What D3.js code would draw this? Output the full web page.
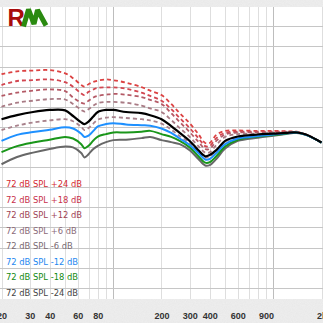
<!DOCTYPE html>
<html>
<head>
<meta charset="utf-8">
<script src="https://cdn.jsdelivr.net/npm/d3@7"></script>
<style>
  html, body { margin: 0; padding: 0; overflow: hidden; background: #eeeeee; }
  svg { display: block; }
</style>
</head>
<body>
<svg id="chart" width="323" height="323"></svg>
<script>
// Frequency points (Hz) shared by every curve
const freqs = [20, 25, 31.5, 40, 50, 56, 63, 66, 70, 75, 80, 90, 100, 120, 150, 170,
               200, 230, 260, 300, 340, 375, 400, 440, 500, 600, 800, 1000, 1200, 1400, 1600, 2000];

// Relative response (dB) for each playback level
const plus24  = [13.1, 13.8, 14.0, 14.1, 13.3, 12.1, 10.4, 10.0, 10.6, 11.2, 11.5, 11.8, 11.6, 11.0, 9.9, 9.0,
                 7.9, 5.7, 3.4, 0.9, -1.8, -4.0, -4.0, -2.0, -1.0, -0.9, -1.0, -1.0, -1.1, -1.2, -1.9, -3.9];
const plus18  = [10.4, 11.4, 11.6, 11.8, 11.1, 10.0, 8.3, 7.9, 8.7, 9.3, 9.7, 9.8, 9.8, 9.5, 8.5, 7.7,
                 6.5, 4.4, 2.2, -0.3, -2.8, -4.8, -4.8, -2.8, -1.5, -1.2, -1.2, -1.2, -1.2, -1.3, -1.9, -3.9];
const plus12  = [7.7, 8.5, 9.0, 9.3, 8.9, 7.3, 6.0, 5.8, 6.5, 7.3, 7.7, 8.0, 8.2, 8.0, 7.4, 6.7,
                 5.7, 3.4, 1.2, -1.3, -3.7, -5.5, -5.5, -3.5, -1.9, -1.4, -1.4, -1.4, -1.3, -1.3, -1.9, -3.9];
const plus6   = [5.0, 6.0, 6.5, 6.9, 6.8, 5.7, 4.2, 3.8, 4.4, 5.3, 5.9, 6.2, 6.2, 6.0, 5.3, 4.6,
                 3.7, 1.7, -0.3, -2.5, -4.8, -6.4, -6.3, -4.5, -2.5, -1.8, -1.7, -1.5, -1.4, -1.4, -1.9, -3.9];
const ref0    = [1.9, 2.9, 3.7, 4.2, 4.1, 2.7, 1.1, 0.7, 1.3, 2.6, 3.7, 4.2, 4.2, 3.7, 3.4, 2.9,
                 1.9, 0.2, -1.5, -3.5, -5.8, -7.3, -7.0, -5.8, -3.5, -2.4, -1.9, -1.7, -1.5, -1.4, -1.9, -3.9];
const minus6  = [-0.8, 0.3, 1.1, 1.6, 1.9, 1.4, 0.0, -0.8, -0.3, 0.8, 1.8, 2.3, 2.4, 2.2, 1.9, 1.6,
                 0.8, -0.7, -2.3, -4.0, -6.1, -7.6, -7.4, -5.9, -3.7, -2.5, -2.0, -1.8, -1.5, -1.4, -1.9, -3.9];
const minus12 = [-3.5, -2.0, -1.3, -0.7, -0.1, -0.4, -1.7, -2.5, -2.2, -1.0, 0.1, 0.7, 0.9, 0.6, 0.4, 0.3,
                 -0.4, -1.5, -2.9, -4.5, -6.5, -8.1, -8.0, -6.5, -4.3, -2.9, -2.3, -1.9, -1.6, -1.4, -2.0, -3.9];
const minus18 = [-6.3, -4.8, -3.9, -3.2, -2.5, -2.9, -4.3, -5.3, -4.7, -3.4, -2.4, -1.8, -1.4, -1.4, -1.2, -1.0,
                 -1.8, -2.5, -3.5, -5.1, -7.3, -8.9, -8.8, -7.3, -4.9, -3.2, -2.4, -2.0, -1.7, -1.4, -2.0, -3.9];
const minus24 = [-9.3, -7.5, -6.4, -5.5, -4.9, -5.1, -6.5, -7.6, -6.8, -5.5, -4.7, -3.8, -3.3, -3.2, -2.8, -2.5,
                 -3.3, -3.8, -4.3, -5.8, -8.0, -9.6, -9.5, -8.0, -5.4, -3.5, -2.7, -2.2, -1.8, -1.5, -2.0, -3.9];

// Legend entries (the 0 dB reference curve has no entry)
const legendLabels = ["72 dB SPL +24 dB", "72 dB SPL +18 dB", "72 dB SPL +12 dB", "72 dB SPL +6 dB",
                      "72 dB SPL -6 dB", "72 dB SPL -12 dB", "72 dB SPL -18 dB", "72 dB SPL -24 dB"];

// Frequency axis labels
const tickFreqs  = [20, 30, 40, 60, 80, 200, 300, 400, 600, 900, 2000];
const tickLabels = ["20", "30", "40", "60", "80", "200", "300", "400", "600", "900", "2k"];

const series = [
  { values: plus24,  color: "#dc4242", text: "#d42a30", dashed: true,  label: legendLabels[0] },
  { values: plus18,  color: "#d24650", text: "#c8304a", dashed: true,  label: legendLabels[1] },
  { values: plus12,  color: "#b45a66", text: "#a04454", dashed: true,  label: legendLabels[2] },
  { values: plus6,   color: "#a87a84", text: "#8a6a78", dashed: true,  label: legendLabels[3] },
  { values: minus6,  color: "#a8828c", text: "#7a6a72", dashed: true,  label: legendLabels[4] },
  { values: minus24, color: "#686868", text: "#444444", dashed: false, label: legendLabels[7], w: 2 },
  { values: minus18, color: "#1a961a", text: "#128a12", dashed: false, label: legendLabels[6], w: 2 },
  { values: minus12, color: "#1e90ff", text: "#1e88f0", dashed: false, label: legendLabels[5], w: 2 },
  { values: ref0,    color: "#000000", text: null,      dashed: false, label: null, w: 2.2 }
];

const W = 323, H = 323;
const plot = { left: 0, right: 323, top: 7, bottom: 299 };

const svg = d3.select("#chart");

// Outer background with a light grain
const defs = svg.append("defs");
const grain = defs.append("filter").attr("id", "grain").attr("x", 0).attr("y", 0)
  .attr("width", "100%").attr("height", "100%");
grain.append("feTurbulence").attr("type", "fractalNoise").attr("baseFrequency", 0.9)
  .attr("numOctaves", 2).attr("seed", 3).attr("result", "n");
grain.append("feColorMatrix").attr("type", "matrix")
  .attr("values", "0 0 0 0 0.55  0 0 0 0 0.55  0 0 0 0 0.55  0 0 0 0.35 0");
defs.append("clipPath").attr("id", "plotClip").append("rect")
  .attr("x", plot.left).attr("y", plot.top)
  .attr("width", plot.right - plot.left).attr("height", plot.bottom - plot.top);

svg.append("rect").attr("width", W).attr("height", H).attr("fill", "#efefef");
svg.append("rect").attr("width", W).attr("height", H).attr("filter", "url(#grain)").attr("opacity", 0.5);

svg.append("rect")
  .attr("x", plot.left).attr("y", plot.top)
  .attr("width", plot.right - plot.left).attr("height", plot.bottom - plot.top)
  .attr("fill", "#ffffff");

// Scales
const x = d3.scaleLog().domain([20, 2000]).range([1.5, 321.5]);
const y = d3.scaleLinear().domain([-42.8, 29.8]).range([plot.bottom, plot.top]);

// Grid
const grid = svg.append("g").attr("clip-path", "url(#plotClip)");
const vlines = [];
for (let dec = 10; dec <= 1000; dec *= 10) {
  for (let m = 1; m <= 9; m++) {
    const f = dec * m;
    if (f >= 20 && f <= 2000) vlines.push(f);
  }
}
vlines.push(2000);
grid.selectAll("line.v").data(vlines).join("line")
  .attr("class", "v")
  .attr("x1", d => Math.round(x(d)) + 0.5).attr("x2", d => Math.round(x(d)) + 0.5)
  .attr("y1", plot.top).attr("y2", plot.bottom)
  .attr("stroke", d => (d === 100 || d === 1000) ? "#bdbdbd" : "#dedede")
  .attr("stroke-width", 1);
grid.selectAll("line.h").data(d3.range(-40, 26, 5)).join("line")
  .attr("class", "h")
  .attr("x1", plot.left).attr("x2", plot.right)
  .attr("y1", d => Math.round(y(d)) + 0.5).attr("y2", d => Math.round(y(d)) + 0.5)
  .attr("stroke", "#c6c6c6").attr("stroke-width", 1);

// Curves
const line = d3.line()
  .x((d, i) => x(freqs[i]))
  .y(d => y(d))
  .curve(d3.curveCatmullRom.alpha(0.5));

const curves = svg.append("g").attr("clip-path", "url(#plotClip)");
curves.selectAll("path").data(series).join("path")
  .attr("d", s => line(s.values))
  .attr("fill", "none")
  .attr("stroke", s => s.color)
  .attr("stroke-width", s => s.dashed ? 1.8 : s.w)
  .attr("stroke-dasharray", s => s.dashed ? "4,3" : null)
  .attr("stroke-linejoin", "round");

// Legend
const legendItems = legendLabels.map(l => series.find(s => s.label === l));
svg.append("g").selectAll("text").data(legendItems).join("text")
  .attr("x", 6)
  .attr("y", (d, i) => 187 + i * 15.5)
  .attr("font-family", "'DejaVu Sans Condensed', 'DejaVu Sans', sans-serif")
  .attr("font-size", 9.3)
  .attr("fill", d => d.text)
  .text(d => d.label);

// Frequency axis labels
const xAxis = d3.axisBottom(x).tickValues(tickFreqs)
  .tickFormat((d, i) => tickLabels[i]).tickSize(0).tickPadding(0);
const axisG = svg.append("g").attr("transform", `translate(0, ${plot.bottom + 14})`).call(xAxis);
axisG.select(".domain").remove();
axisG.selectAll("text")
  .attr("font-family", "'Liberation Sans', Arial, sans-serif")
  .attr("font-weight", "bold")
  .attr("font-size", 9)
  .attr("fill", "#333333");

// Logo
const logo = svg.append("g");
logo.append("text")
  .attr("x", 7.5).attr("y", 25.5)
  .attr("font-family", "'Liberation Sans', Arial, sans-serif")
  .attr("font-weight", "bold").attr("font-size", 24)
  .attr("fill", "#a80c0c")
  .text("R");
logo.append("path")
  .attr("d", d3.line()([[23.5, 26.5], [28.5, 9.5], [34, 24], [37.5, 10], [46, 25.5]]))
  .attr("fill", "none").attr("stroke", "#2a8a10").attr("stroke-width", 5)
  .attr("stroke-linejoin", "bevel").attr("stroke-linecap", "butt");
</script>
</body>
</html>
